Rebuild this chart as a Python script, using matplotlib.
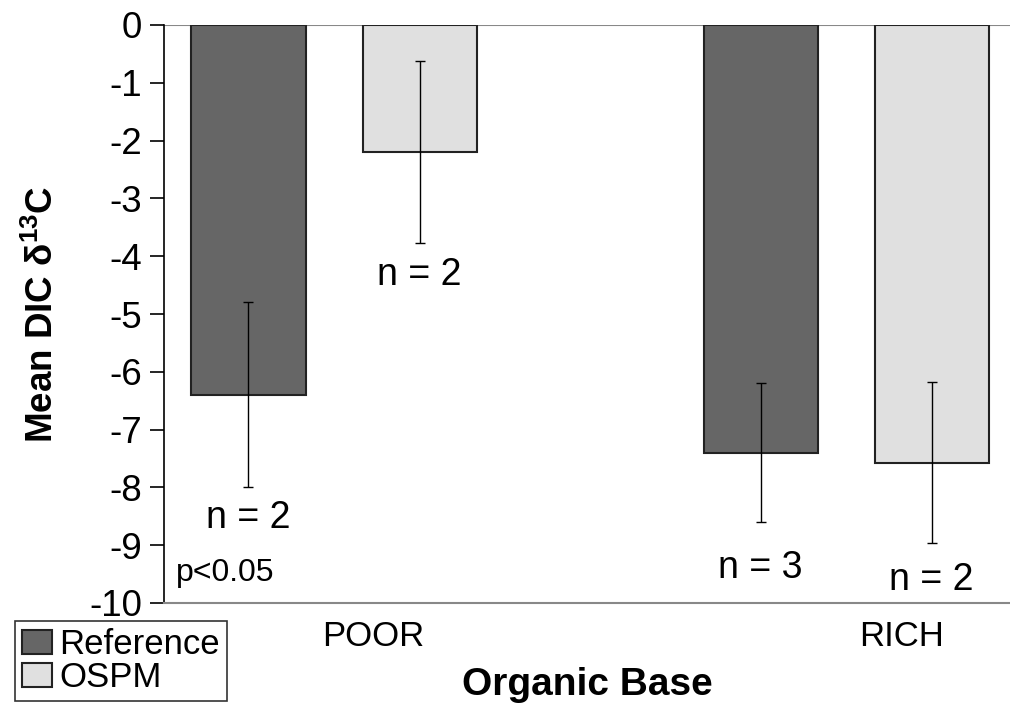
import matplotlib
matplotlib.use("Agg")
import matplotlib.pyplot as plt
import numpy as np

plt.rcParams['font.family'] = ['Liberation Sans', 'DejaVu Sans']
plt.rcParams['mathtext.fontset'] = 'custom'
plt.rcParams['mathtext.rm'] = 'Liberation Sans'
plt.rcParams['mathtext.bf'] = 'Liberation Sans:bold'

categories = ['POOR', 'RICH']
series = ['Reference', 'OSPM']
reference_vals = [-6.4, -7.4]
ospm_vals = [-2.2, -7.57]
reference_err = [1.6, 1.2]
ospm_err = [1.58, 1.39]
n_labels_ref = ['n = 2', 'n = 3']
n_labels_ospm = ['n = 2', 'n = 2']
n_pos_ref = [-8.53, -9.39]
n_pos_ospm = [-4.33, -9.6]
yticks = list(range(-10, 1))

fig = plt.figure(figsize=(10.1, 7.03), dpi=100)
ax = fig.add_axes([164/1010, 1-603/703, 1-164/1010, (603-25)/703])

x = np.arange(len(categories))
off = 0.167
w = 0.2227
label_shift = [0.076, 0.109]
ax.bar(x - off, reference_vals, w, color='#666666', edgecolor='#222222', linewidth=1.5, label=series[0], zorder=2)
ax.bar(x + off, ospm_vals, w, color='#e0e0e0', edgecolor='#222222', linewidth=1.5, label=series[1], zorder=2)
ax.errorbar(x - off, reference_vals, yerr=reference_err, fmt='none', ecolor='black', elinewidth=1, capsize=3.3, capthick=1, zorder=3)
ax.errorbar(x + off, ospm_vals, yerr=ospm_err, fmt='none', ecolor='black', elinewidth=1, capsize=3.3, capthick=1, zorder=3)

for i in range(len(categories)):
    ax.text(x[i] - off, n_pos_ref[i], n_labels_ref[i], ha='center', va='center', fontsize=27)
    ax.text(x[i] + off, n_pos_ospm[i], n_labels_ospm[i], ha='center', va='center', fontsize=27)
ax.text(-0.308, -9.48, 'p<0.05', ha='left', va='center', fontsize=23)

ax.set_xlim(-0.332, 1.320)
ax.set_ylim(-10, 0)
ax.set_yticks(yticks)
ax.set_yticklabels([str(t) for t in yticks], fontsize=26.5)
ax.tick_params(axis='y', direction='out', length=10, width=1.2, color='black', pad=6)
ax.set_xticks(x + np.array(label_shift))
ax.set_xticklabels(categories, fontsize=25)
ax.tick_params(axis='x', length=0, pad=12)
ax.axhline(0, color='#888888', linewidth=1.5, zorder=1)
for s in ['top', 'right']:
    ax.spines[s].set_visible(False)
ax.spines['bottom'].set_color('#888888')
ax.spines['bottom'].set_linewidth(1.5)
ax.spines['left'].set_color('black')
ax.spines['left'].set_linewidth(1.2)

ax.set_ylabel('Mean DIC δ$^{\\mathbf{13}}$C', fontsize=26.5, fontweight='bold', labelpad=20)
ax.set_xlabel('Organic Base', fontsize=28, fontweight='bold', labelpad=10)

leg = fig.legend(loc='lower left', bbox_to_anchor=(15/1010, 2/703), fontsize=25, frameon=True,
                 fancybox=False, edgecolor='black', handlelength=0.87, handleheight=0.7,
                 handletextpad=0.2, borderpad=0.2, labelspacing=0.0, borderaxespad=0)
leg.get_frame().set_linewidth(1.2)

fig.savefig('out.png', dpi=100)
